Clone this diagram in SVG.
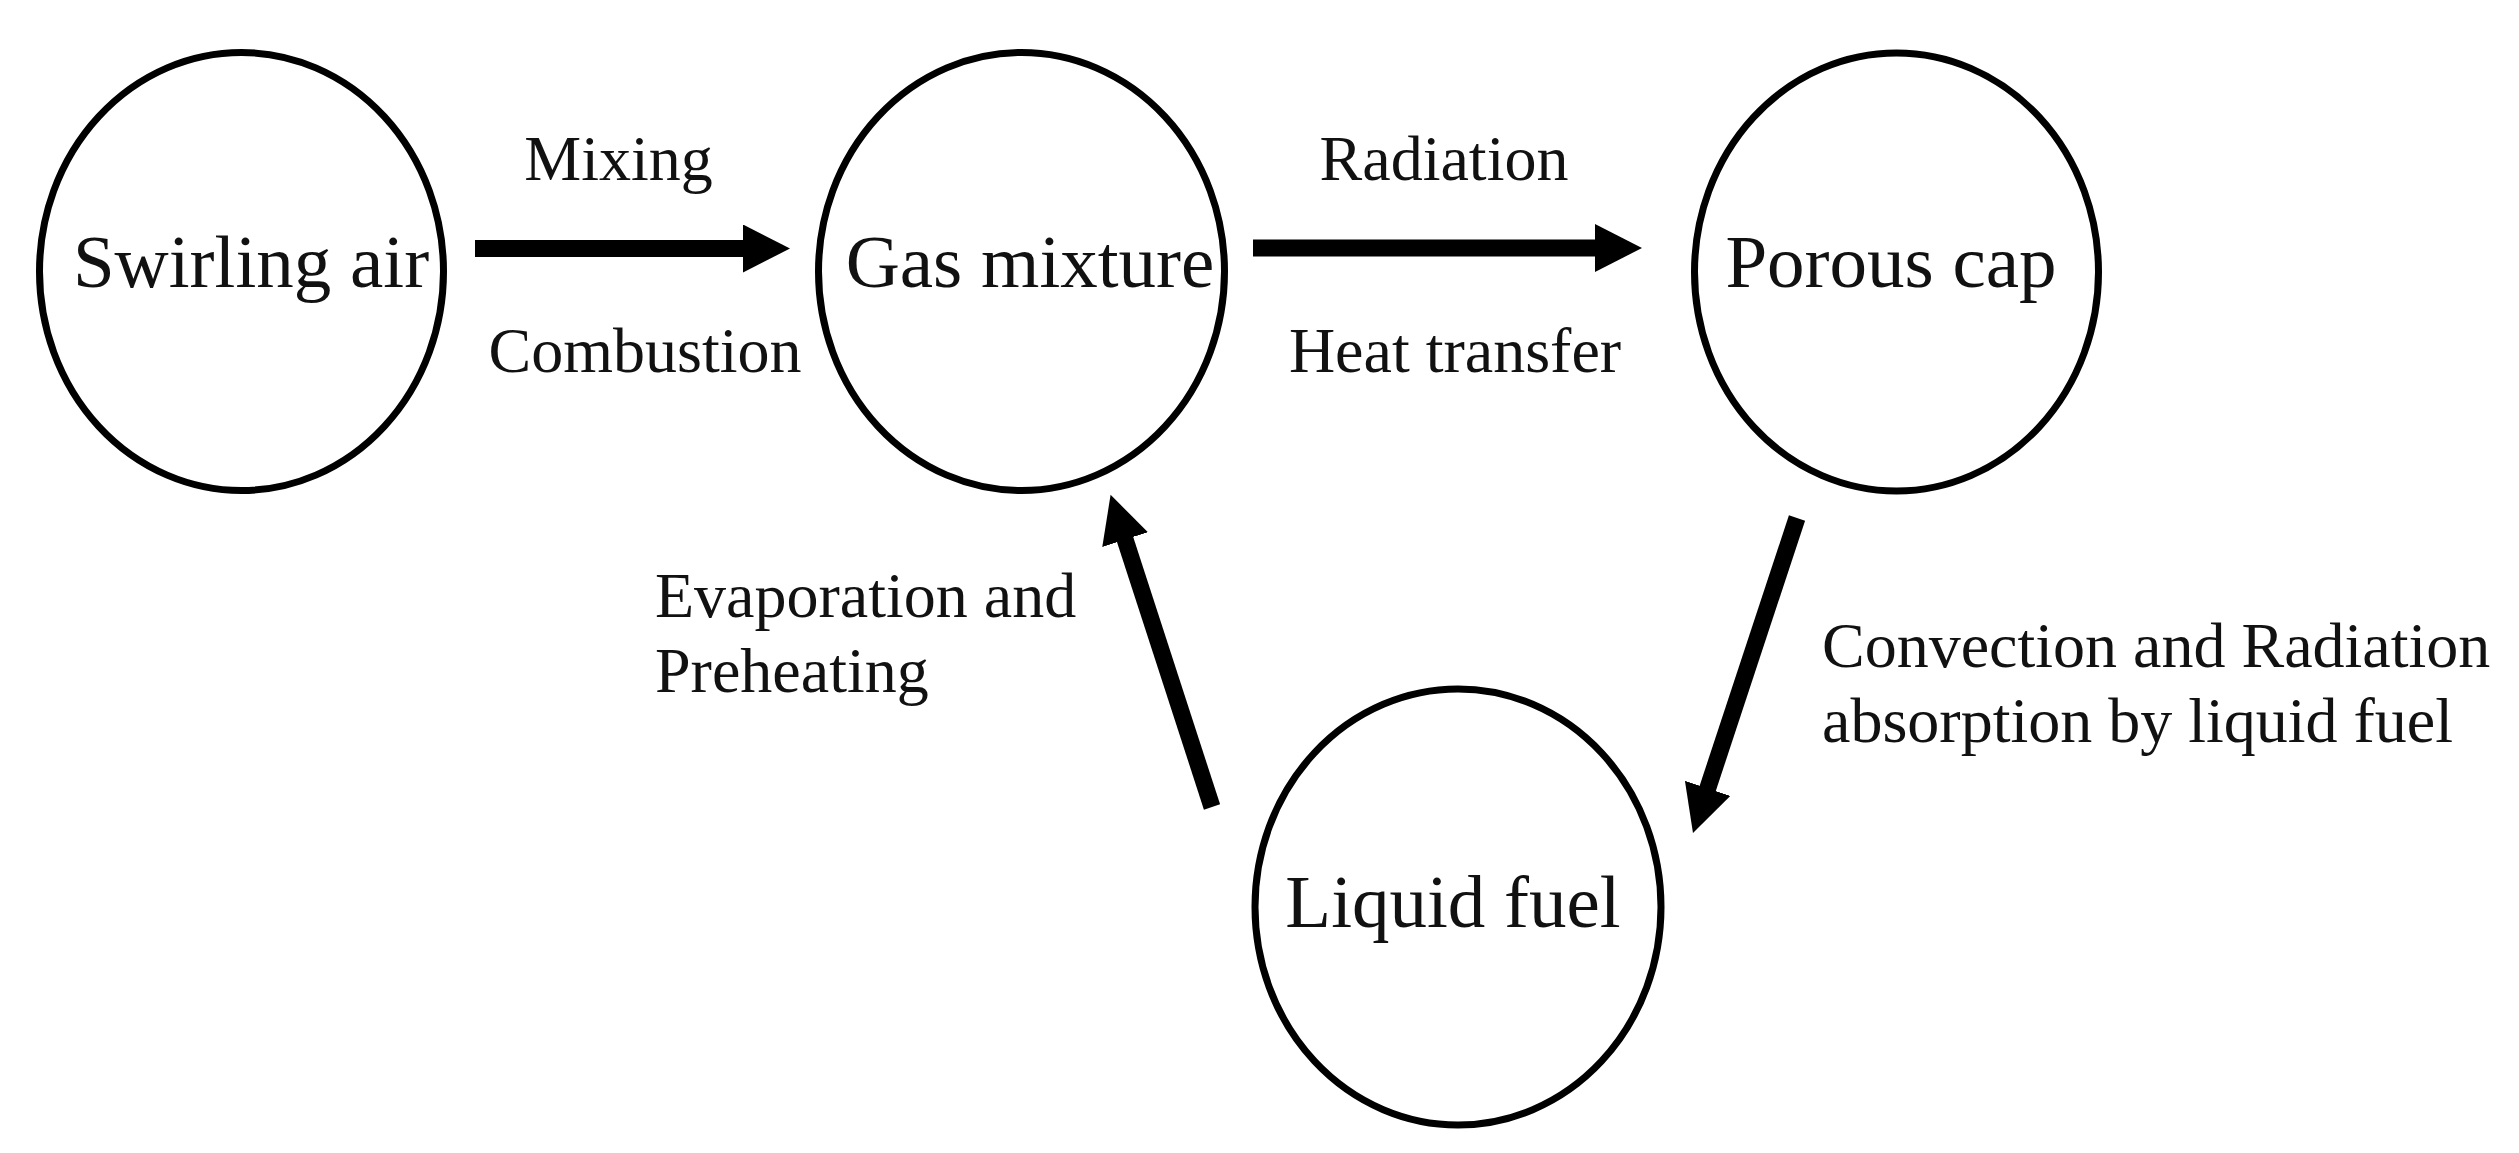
<svg xmlns="http://www.w3.org/2000/svg" width="2519" height="1153" viewBox="0 0 2519 1153">
  <style>
    .node { fill: #ffffff; stroke: #000000; stroke-width: 7; }
    .ntext { font-family: "Liberation Serif", "Times New Roman", serif; font-size: 75px; fill: #111111; text-anchor: middle; }
    .ltext { font-family: "Liberation Serif", "Times New Roman", serif; font-size: 64px; fill: #111111; }
    .mid { text-anchor: middle; }
    .conn { stroke: #000000; stroke-width: 17; fill: none; stroke-linecap: butt; }
  </style>
  <defs>
    <marker id="arrow" markerUnits="userSpaceOnUse" viewBox="0 0 48 48" markerWidth="48" markerHeight="48" refX="1" refY="24" orient="auto">
      <path d="M0,0 L47,24 L0,48 Z" fill="#000000"/>
    </marker>
  </defs>
  <rect x="0" y="0" width="2519" height="1153" fill="#ffffff"/>

  <g id="swirling-air">
    <ellipse class="node" cx="241.5" cy="271.5" rx="202" ry="219"/>
    <text class="ntext" x="251" y="287">Swirling air</text>
  </g>
  <g id="gas-mixture">
    <ellipse class="node" cx="1021.5" cy="271.5" rx="203" ry="219"/>
    <text class="ntext" x="1030" y="287">Gas mixture</text>
  </g>
  <g id="porous-cap">
    <ellipse class="node" cx="1896.5" cy="272" rx="202" ry="219"/>
    <text class="ntext" x="1891" y="287">Porous cap</text>
  </g>
  <g id="liquid-fuel">
    <ellipse class="node" cx="1458" cy="907" rx="203" ry="218"/>
    <text class="ntext" x="1453" y="927">Liquid fuel</text>
  </g>

  <g id="connectors">
    <line class="conn" x1="475" y1="248.5" x2="744" y2="248.5" marker-end="url(#arrow)"/>
    <line class="conn" x1="1253" y1="248" x2="1596" y2="248" marker-end="url(#arrow)"/>
    <line class="conn" x1="1212" y1="807" x2="1124.8" y2="538.6" marker-end="url(#arrow)"/>
    <line class="conn" x1="1797" y1="518" x2="1707.4" y2="789.3" marker-end="url(#arrow)"/>
  </g>

  <g id="labels">
    <text class="ltext mid" x="618.5" y="180">Mixing</text>
    <text class="ltext mid" x="645" y="372">Combustion</text>
    <text class="ltext mid" x="1444" y="180">Radiation</text>
    <text class="ltext mid" x="1455" y="372">Heat transfer</text>
    <text class="ltext" x="655" y="617">Evaporation and</text>
    <text class="ltext" x="655" y="692">Preheating</text>
    <text class="ltext" x="1822" y="667">Convection and Radiation</text>
    <text class="ltext" x="1822" y="742">absorption by liquid fuel</text>
  </g>
</svg>
